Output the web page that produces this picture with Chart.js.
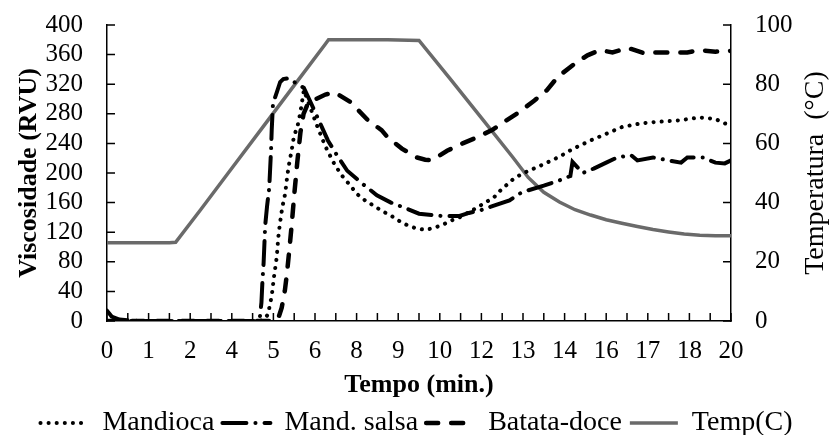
<!DOCTYPE html>
<html>
<head>
<meta charset="utf-8">
<script src="https://cdn.jsdelivr.net/npm/chart.js@4.4.1/dist/chart.umd.min.js"></script>
<style>
  html, body { margin: 0; padding: 0; background: #fff; }
  #wrap { width: 833px; height: 435px; }
</style>
</head>
<body>
<div id="wrap"><canvas id="rvaChart"></canvas></div>
<script>
// Viscosity profiles (RVA) with the temperature programme on a second axis

const xTickLabels = ['0', '1', '2', '4', '5', '6', '8', '9', '10', '12', '13', '14', '16', '17', '18', '20'];

const mandiocaTime = [0, 1, 2, 3, 4, 4.9, 5.05, 5.16, 5.28, 5.35, 5.44, 5.49, 5.54, 5.62, 5.71, 5.78, 5.84, 5.92, 5.99, 6.11, 6.19, 6.31, 6.5, 6.75, 7.0, 7.25, 7.5, 7.84, 8.0, 8.27, 8.54, 8.8, 9.12, 9.33, 9.6, 9.85, 10.2, 10.5, 10.8, 11.05, 11.3, 11.85, 12.4, 12.6, 13.0, 13.3, 14.0, 14.5, 14.95, 15.5, 16.0, 16.5, 17.1, 17.6, 18.3, 19.0, 19.5, 19.8, 20];
const mandiocaRVU = [0, 0, 0, 0, 0, 0, 3, 9, 34, 59, 86, 113, 131, 154, 172, 197, 213, 231, 249, 264, 280, 312, 290, 262, 236, 215, 198, 181, 172, 163, 156, 149, 142, 136, 130, 126, 123, 126, 131, 136, 140, 153, 167, 176, 191, 199, 212, 222, 233, 244, 253, 262, 267, 269, 271, 275, 273, 267, 265];

const salsaTime = [0, 0.15, 0.4, 1, 2, 3, 4, 4.8, 4.9, 4.95, 4.98, 5.02, 5.07, 5.13, 5.2, 5.26, 5.28, 5.32, 5.45, 5.55, 5.65, 5.8, 6.31, 6.5, 6.8, 7.08, 7.4, 7.7, 8.2, 8.65, 9.1, 9.6, 10.0, 10.7, 11.3, 11.6, 12.0, 12.4, 12.9, 13.3, 14.0, 14.5, 14.85, 14.92, 15.25, 15.6, 16.0, 16.35, 16.8, 17.0, 17.5, 18.0, 18.4, 18.6, 19.1, 19.5, 19.8, 20];
const salsaRVU = [14, 6, 2, 0, 0, 0, 0, 0, 5, 25, 52, 79, 129, 155, 180, 233, 259, 294, 310, 323, 327, 328, 315, 298, 270, 244, 222, 203, 185, 170, 160, 152, 145, 142, 142, 146, 150, 156, 163, 174, 183, 190, 196, 215, 200, 206, 214, 221, 224, 217, 221, 217, 214, 221, 221, 214, 213, 217];

const batataTime = [0, 1, 2, 3, 4, 5, 5.4, 5.5, 5.6, 5.7, 5.77, 5.85, 5.92, 6.0, 6.1, 6.2, 6.3, 6.45, 6.7, 7.0, 7.3, 7.8, 8.37, 8.8, 9.0, 9.45, 9.93, 10.2, 10.4, 10.9, 11.4, 11.85, 12.34, 12.8, 13.2, 13.7, 14.1, 14.45, 15.0, 15.4, 15.8, 16.2, 16.7, 17.2, 17.7, 18.2, 18.6, 19.0, 19.5, 20];
const batataRVU = [0, 0, 0, 0, 0, 0, 0, 5, 18, 41, 65, 99, 130, 170, 215, 255, 280, 295, 300, 306, 309, 296, 271, 258, 248, 233, 221, 218, 217, 230, 240, 248, 258, 271, 282, 298, 312, 330, 348, 359, 366, 363, 369, 362, 363, 363, 363, 366, 364, 365];

const tempTime = [0, 1, 2, 2.2, 3, 4, 5, 6, 7, 7.1, 8, 9, 10, 11, 12, 13, 13.5, 14, 14.5, 15, 15.5, 16, 16.5, 17, 17.5, 18, 18.5, 19, 19.5, 20];
const tempC = [26.4, 26.4, 26.4, 26.6, 37.6, 51.6, 65.6, 79.6, 93.6, 95, 95, 95, 94.8, 81.8, 68.6, 55.4, 48.5, 43.5, 40.2, 37.6, 35.8, 34.2, 33, 31.9, 30.9, 30.1, 29.4, 29, 28.8, 28.8];

const toPoints = (ts, vs) => ts.map((t, i) => ({ x: t, y: vs[i] }));

const serif = '"Liberation Serif", "Times New Roman", serif';
Chart.defaults.font.family = serif;
Chart.defaults.color = '#000';

// fixed side-axis widths; keep the label gap from inflating the top/bottom padding
const fitSide = width => scale => {
    scale.width = width;
    scale.paddingTop = 13;
    scale.paddingBottom = 13;
};

// inward tick marks + the right-hand axis title (reads bottom to top)
const axisDecor = {
    id: 'axisDecor',
    afterDraw(chart) {
        const { ctx } = chart;
        const { x, y, y1 } = chart.scales;
        const len = 8;
        ctx.save();
        ctx.strokeStyle = '#000';
        ctx.lineWidth = 1.5;
        ctx.beginPath();
        x.ticks.forEach(t => {
            const px = x.getPixelForValue(t.value);
            ctx.moveTo(px, x.top);
            ctx.lineTo(px, x.top - len);
        });
        y.ticks.forEach(t => {
            const py = y.getPixelForValue(t.value);
            ctx.moveTo(y.right, py);
            ctx.lineTo(y.right + len, py);
        });
        y1.ticks.forEach(t => {
            const py = y1.getPixelForValue(t.value);
            ctx.moveTo(y1.left, py);
            ctx.lineTo(y1.left - len, py);
        });
        ctx.stroke();

        ctx.font = '28px ' + serif;
        ctx.fillStyle = '#000';
        ctx.textAlign = 'center';
        ctx.textBaseline = 'middle';
        ctx.translate(y1.right - 17, (y1.top + y1.bottom) / 2);
        ctx.rotate(-Math.PI / 2);
        ctx.fillText('Temperatura  (\u00B0C)', 0, 0);
        ctx.restore();
    }
};

const ctx = document.getElementById('rvaChart').getContext('2d');
new Chart(ctx, {
    type: 'line',
    data: {
        datasets: [
            {
                label: 'Mandioca',
                data: toPoints(mandiocaTime, mandiocaRVU),
                borderColor: '#000',
                borderWidth: 4,
                borderDash: [0.1, 8],
                borderCapStyle: 'round',
                yAxisID: 'y'
            },
            {
                label: 'Mand. salsa',
                data: toPoints(salsaTime, salsaRVU),
                borderColor: '#000',
                borderWidth: 4,
                borderDash: [24, 9, 0.1, 9],
                borderCapStyle: 'round',
                yAxisID: 'y'
            },
            {
                label: 'Batata-doce',
                data: toPoints(batataTime, batataRVU),
                borderColor: '#000',
                borderWidth: 4.5,
                borderDash: [12, 13],
                borderCapStyle: 'round',
                yAxisID: 'y'
            },
            {
                label: 'Temp(C)',
                data: toPoints(tempTime, tempC),
                borderColor: '#6a6a6a',
                borderWidth: 3.5,
                borderDash: [],
                borderCapStyle: 'butt',
                yAxisID: 'y1'
            }
        ]
    },
    options: {
        responsive: true,
        maintainAspectRatio: false,
        animation: false,
        elements: { point: { radius: 0 }, line: { tension: 0 } },
        layout: { padding: { top: 25, left: 0, right: 0, bottom: -12 } },
        scales: {
            x: {
                type: 'linear',
                min: 0,
                max: 20,
                afterBuildTicks: scale => {
                    scale.ticks = Array.from({ length: 31 }, (_, i) => ({ value: i * 20 / 30 }));
                },
                afterFit: scale => { scale.height = 80; },
                grid: { display: false, drawTicks: false },
                border: { display: true, color: '#000', width: 1.5 },
                ticks: {
                    autoSkip: false,
                    maxRotation: 0,
                    minRotation: 0,
                    padding: 15,
                    font: { size: 25 },
                    callback: (value, index) => (index % 2 === 0 ? xTickLabels[index / 2] : '')
                },
                title: {
                    display: true,
                    text: 'Tempo (min.)',
                    font: { size: 26, weight: 'bold' },
                    padding: { top: 0, bottom: 0 }
                }
            },
            y: {
                position: 'left',
                min: 0,
                max: 400,
                afterFit: fitSide(107),
                grid: { display: false, drawTicks: false },
                border: { display: true, color: '#000', width: 1.5 },
                ticks: { stepSize: 40, autoSkip: false, padding: 24, font: { size: 25 } },
                title: {
                    display: true,
                    text: 'Viscosidade (RVU)',
                    font: { size: 26, weight: 'bold' },
                    padding: { top: 14, bottom: 0 }
                }
            },
            y1: {
                position: 'right',
                min: 0,
                max: 100,
                afterFit: fitSide(102),
                grid: { display: false, drawTicks: false },
                border: { display: true, color: '#000', width: 1.5 },
                ticks: { stepSize: 20, autoSkip: false, padding: 24, font: { size: 25 } }
            }
        },
        plugins: {
            tooltip: { enabled: false },
            legend: {
                position: 'bottom',
                labels: {
                    font: { size: 28 },
                    color: '#000',
                    padding: 8,
                    usePointStyle: true,
                    pointStyleWidth: 48,
                    generateLabels: chart => chart.data.datasets.map((ds, i) => ({
                        text: ds.label,
                        strokeStyle: ds.borderColor,
                        fillStyle: ds.borderColor,
                        lineWidth: ds.borderWidth,
                        lineDash: ds.borderDash,
                        lineCap: ds.borderCapStyle,
                        pointStyle: 'line',
                        hidden: false,
                        datasetIndex: i
                    }))
                }
            }
        }
    },
    plugins: [axisDecor]
});
</script>
</body>
</html>
